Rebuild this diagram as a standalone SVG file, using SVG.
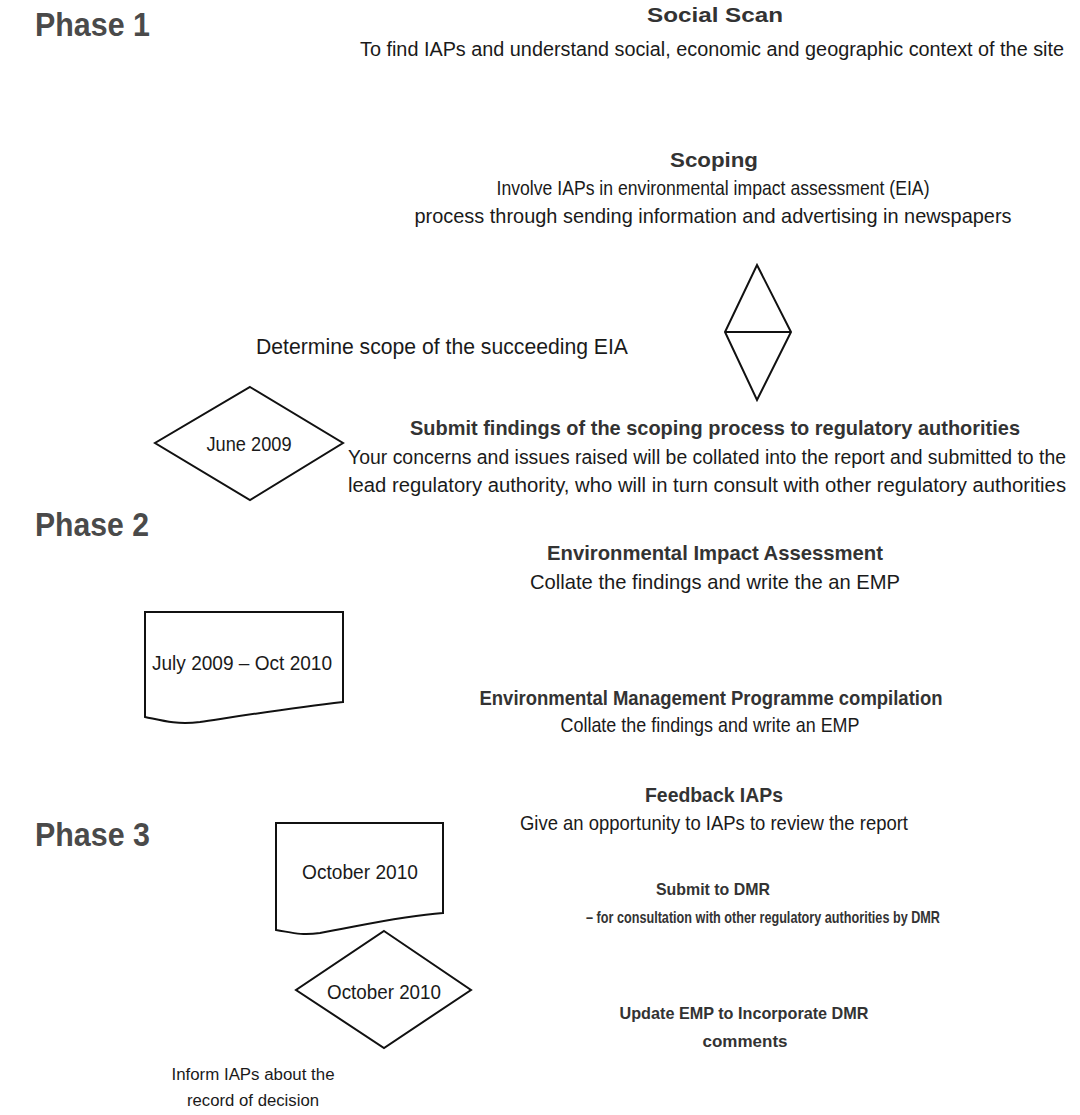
<svg xmlns="http://www.w3.org/2000/svg" width="1080" height="1115" viewBox="0 0 1080 1115">
<style>
text{font-family:"Liberation Sans",Arial,sans-serif;fill:#1a1a1a}
.ph{font-size:34px;font-weight:bold;fill:#4a4a4a}
.t{font-size:21px;text-anchor:middle}
.b{font-weight:bold;fill:#333}
.s{font-size:17px}
.n{font-size:17.5px}
.sh{fill:#fff;stroke:#111;stroke-width:2}
</style>
<rect width="1080" height="1115" fill="#fff"/>
<g id="phase1"><text class="ph" x="35" y="36" textLength="115" lengthAdjust="spacingAndGlyphs">Phase 1</text></g>
<g id="phase2"><text class="ph" x="35" y="536" textLength="114" lengthAdjust="spacingAndGlyphs">Phase 2</text></g>
<g id="phase3"><text class="ph" x="35" y="846" textLength="115" lengthAdjust="spacingAndGlyphs">Phase 3</text></g>

<g id="social-scan">
<text class="t b" x="715" y="22" textLength="136" lengthAdjust="spacingAndGlyphs">Social Scan</text>
<text class="t n" transform="translate(712 56) scale(1 1.2)" x="0" y="0" textLength="704" lengthAdjust="spacingAndGlyphs">To find IAPs and understand social, economic and geographic context of the site</text>
</g>
<g id="scoping">
<text class="t b" x="714" y="167" textLength="88" lengthAdjust="spacingAndGlyphs">Scoping</text>
<text class="t" x="713" y="195" textLength="433" lengthAdjust="spacingAndGlyphs">Involve IAPs in environmental impact assessment (EIA)</text>
<text class="t" x="713" y="223" textLength="597" lengthAdjust="spacingAndGlyphs">process through sending information and advertising in newspapers</text>
</g>
<g id="decision">
<path class="sh" d="M757,265 L791,332 L757,400 L725,332 Z M725,332 L791,332"/>
</g>
<g id="determine-scope">
<text x="256" y="354" style="font-size:22px" textLength="372" lengthAdjust="spacingAndGlyphs">Determine scope of the succeeding EIA</text>
</g>
<g id="june-2009">
<path class="sh" d="M250,387 L343,443 L250,500 L155,443 Z" stroke-width="1.6"/>
<text class="t" x="249" y="451" textLength="85" lengthAdjust="spacingAndGlyphs">June 2009</text>
</g>
<g id="submit-findings">
<text class="t b" x="715" y="435" textLength="610" lengthAdjust="spacingAndGlyphs">Submit findings of the scoping process to regulatory authorities</text>
<text class="t n" transform="translate(707 464) scale(1 1.2)" x="0" y="0" textLength="718" lengthAdjust="spacingAndGlyphs">Your concerns and issues raised will be collated into the report and submitted to the</text>
<text class="t n" transform="translate(707 492) scale(1 1.2)" x="0" y="0" textLength="718" lengthAdjust="spacingAndGlyphs">lead regulatory authority, who will in turn consult with other regulatory authorities</text>
</g>
<g id="eia">
<text class="t b" x="715" y="560" textLength="336" lengthAdjust="spacingAndGlyphs">Environmental Impact Assessment</text>
<text class="t" x="715" y="589" textLength="370" lengthAdjust="spacingAndGlyphs">Collate the findings and write the an EMP</text>
</g>
<g id="july-2009">
<path class="sh" d="M145,612 L343,612 L343,702 C290,708 240,716 200,722 C175,725 160,720 145,717 Z"/>
<text class="t" x="242" y="670" textLength="180" lengthAdjust="spacingAndGlyphs">July 2009 – Oct 2010</text>
</g>
<g id="emp">
<text class="t b" x="711" y="705" textLength="463" lengthAdjust="spacingAndGlyphs">Environmental Management Programme compilation</text>
<text class="t" x="710" y="732" textLength="299" lengthAdjust="spacingAndGlyphs">Collate the findings and write an EMP</text>
</g>
<g id="feedback">
<text class="t b" x="714" y="802" textLength="138" lengthAdjust="spacingAndGlyphs">Feedback IAPs</text>
<text class="t" x="714" y="830" textLength="388" lengthAdjust="spacingAndGlyphs">Give an opportunity to IAPs to review the report</text>
</g>
<g id="october-2010-doc">
<path class="sh" d="M276,823 L443,823 L443,913 C400,916 360,926 320,933 C300,936 290,932 276,930 Z"/>
<text class="t" x="360" y="879" textLength="116" lengthAdjust="spacingAndGlyphs">October 2010</text>
</g>
<g id="october-2010-decision">
<path class="sh" d="M384,931 L471,990 L384,1048 L296,990 Z" stroke-width="1.6"/>
<text class="t" x="384" y="999" textLength="114" lengthAdjust="spacingAndGlyphs">October 2010</text>
</g>
<g id="submit-dmr">
<text class="t b s" x="713" y="895" textLength="114" lengthAdjust="spacingAndGlyphs">Submit to DMR</text>
<text class="t b s" x="763" y="923" textLength="354" lengthAdjust="spacingAndGlyphs">– for consultation with other regulatory authorities by DMR</text>
</g>
<g id="update-emp">
<text class="t b s" x="744" y="1019" textLength="249" lengthAdjust="spacingAndGlyphs">Update EMP to Incorporate DMR</text>
<text class="t b s" x="745" y="1047" textLength="85" lengthAdjust="spacingAndGlyphs">comments</text>
</g>
<g id="inform">
<text class="t s" x="253" y="1080" textLength="163" lengthAdjust="spacingAndGlyphs" style="font-size:16px">Inform IAPs about the</text>
<text class="t s" x="253" y="1106" textLength="132" lengthAdjust="spacingAndGlyphs" style="font-size:16px">record of decision</text>
</g>
<g id="connectors"></g>
</svg>
